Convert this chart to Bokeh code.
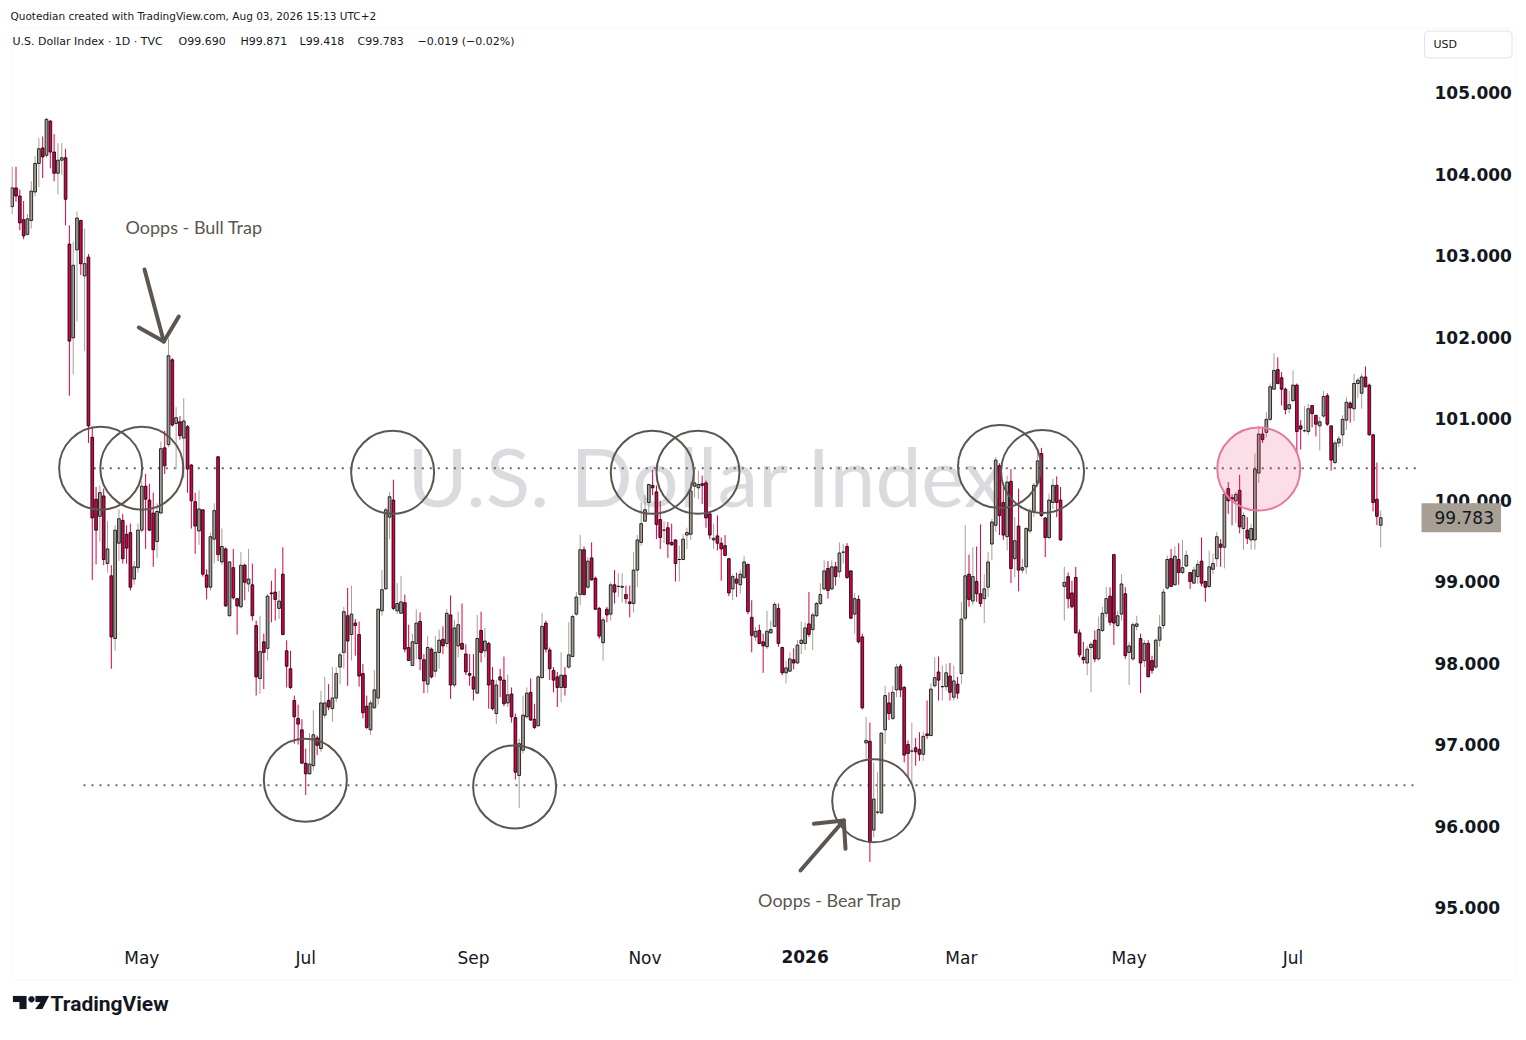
import math
import pandas as pd
from bokeh.plotting import figure
from bokeh.models import Label, FixedTicker, PrintfTickFormatter, Range1d, ColumnDataSource, PolyAnnotation
from bokeh.embed import file_html
from bokeh.resources import INLINE

# ---------------- data (U.S. Dollar Index, daily) ----------------
opens = [
    103.60, 103.83, 103.73, 103.44, 103.26, 103.43, 103.78, 104.13, 104.32, 104.23,
    104.65, 104.27, 104.01, 104.17, 104.20, 103.14, 101.99, 103.07, 103.43, 102.75,
    102.98, 100.77, 100.01, 99.80, 100.05, 99.22, 99.07, 98.30, 99.47, 99.75,
    99.58, 99.60, 99.03, 99.17, 99.63, 100.17, 100.00, 99.84, 99.49, 99.84,
    100.64, 100.68, 101.72, 100.94, 100.96, 100.76, 100.90, 100.43, 99.98, 99.62,
    99.88, 99.08, 98.93, 99.52, 100.53, 99.24, 99.40, 98.58, 99.17, 98.79,
    98.69, 99.20, 98.97, 98.96, 98.46, 97.81, 98.26, 98.18, 98.86, 98.87,
    98.67, 99.09, 98.15, 97.93, 97.54, 97.32, 97.18, 96.77, 96.64, 96.74,
    97.08, 96.95, 97.36, 97.54, 97.44, 97.57, 97.95, 98.13, 98.58, 98.35,
    98.49, 98.35, 97.87, 97.47, 97.18, 97.45, 97.57, 98.64, 98.91, 99.79,
    100.00, 98.64, 98.61, 98.74, 98.19, 97.97, 98.24, 98.51, 98.04, 97.74,
    98.17, 97.90, 98.13, 98.29, 98.24, 98.59, 97.73, 98.21, 98.24, 98.11,
    97.87, 97.83, 97.63, 98.40, 98.15, 98.24, 97.79, 97.38, 97.83, 97.79,
    97.51, 97.62, 97.33, 96.62, 96.93, 97.34, 97.64, 97.31, 97.23, 97.82,
    98.49, 98.16, 97.91, 97.83, 97.70, 97.85, 97.95, 98.08, 98.60, 98.84,
    99.39, 98.93, 99.29, 99.04, 98.67, 98.25, 98.66, 98.60, 98.96, 98.94,
    98.93, 98.84, 98.75, 98.73, 99.14, 99.48, 99.74, 99.97, 100.18, 100.10,
    99.76, 99.63, 99.66, 99.48, 99.51, 99.27, 99.27, 99.57, 99.58, 100.17,
    100.15, 100.20, 100.21, 99.83, 99.51, 99.56, 99.47, 99.44, 99.28, 98.91,
    99.03, 98.96, 99.05, 99.21, 98.56, 98.32, 98.40, 98.26, 98.20, 98.37,
    98.45, 98.67, 98.19, 97.88, 97.90, 98.04, 98.00, 98.24, 98.24, 98.48,
    98.41, 98.58, 98.73, 98.91, 99.16, 98.91, 99.18, 99.12, 99.36, 99.43,
    99.13, 98.60, 98.78, 98.32, 97.02, 97.04, 95.95, 96.17, 96.16, 97.18,
    97.51, 97.32, 97.67, 97.96, 97.70, 97.00, 96.92, 96.96, 96.94, 96.88,
    97.13, 97.11, 97.72, 97.89, 97.71, 97.71, 97.84, 97.58, 97.74, 97.87,
    98.55, 99.09, 98.76, 99.00, 98.85, 98.79, 98.93, 99.46, 99.69, 100.42,
    99.97, 99.55, 100.23, 99.28, 99.68, 99.14, 99.18, 99.62, 99.86, 100.21,
    100.57, 99.78, 99.54, 99.97, 100.18, 100.00, 98.94, 99.06, 98.86, 99.05,
    98.37, 98.07, 98.00, 98.19, 98.28, 98.05, 98.40, 98.61, 98.82, 99.33,
    98.46, 98.60, 98.85, 98.13, 98.05, 98.45, 98.30, 98.03, 98.24, 98.03,
    97.95, 98.28, 98.46, 98.92, 99.28, 98.96, 99.27, 99.11, 99.19, 99.11,
    98.98, 99.06, 99.25, 99.00, 98.94, 99.15, 99.28, 99.46, 99.42, 100.14,
    100.03, 99.99, 100.12, 99.65, 99.63, 99.51, 99.51, 100.33, 100.81, 100.83,
    100.99, 101.36, 101.60, 101.50, 101.36, 101.12, 101.22, 101.41, 100.91, 100.85,
    100.84, 101.16, 101.04, 100.91, 101.03, 101.28, 100.91, 100.46, 100.70, 100.80,
    100.98, 101.19, 101.12, 101.43, 101.31, 101.51, 101.41, 100.80, 100.01, 99.690,
]
highs = [
    104.09, 104.09, 103.81, 103.67, 103.51, 103.91, 104.22, 104.44, 104.46, 104.69,
    104.66, 104.49, 104.38, 104.38, 104.31, 103.37, 103.17, 103.54, 103.44, 103.33,
    103.02, 100.90, 100.16, 100.18, 100.14, 99.74, 99.20, 99.69, 99.89, 99.83,
    99.69, 99.71, 99.25, 99.71, 100.23, 100.32, 100.20, 100.09, 99.96, 100.72,
    100.85, 101.98, 101.74, 101.14, 101.03, 101.25, 100.92, 100.44, 100.09, 100.12,
    99.88, 99.15, 99.60, 99.96, 100.54, 99.65, 99.42, 99.25, 99.40, 98.80,
    99.36, 99.22, 99.40, 99.22, 98.52, 98.58, 98.36, 98.85, 99.01, 99.16,
    98.89, 99.42, 98.28, 98.15, 97.60, 97.49, 97.31, 96.95, 97.14, 97.42,
    97.11, 97.66, 97.83, 97.74, 97.95, 97.95, 98.13, 98.69, 98.92, 98.95,
    98.54, 98.51, 97.99, 97.60, 97.54, 97.91, 98.67, 99.14, 99.91, 100.10,
    100.25, 98.98, 99.07, 98.84, 98.47, 98.36, 98.66, 98.62, 98.11, 98.33,
    98.19, 98.33, 98.41, 98.45, 98.66, 98.83, 98.53, 98.63, 98.73, 98.23,
    98.11, 98.11, 98.59, 98.63, 98.43, 98.26, 97.95, 97.79, 97.93, 98.08,
    97.86, 97.70, 97.38, 97.07, 97.60, 97.70, 97.81, 97.50, 97.85, 98.61,
    98.52, 98.19, 97.95, 97.89, 98.13, 97.95, 98.50, 98.60, 98.87, 99.57,
    99.43, 99.30, 99.48, 99.06, 98.69, 98.56, 98.69, 98.99, 99.14, 99.10,
    99.10, 98.95, 98.95, 99.36, 99.57, 99.97, 100.06, 100.20, 100.37, 100.18,
    99.99, 99.74, 99.73, 99.71, 99.52, 99.44, 99.58, 99.66, 100.22, 100.40,
    100.36, 100.30, 100.24, 99.84, 99.71, 99.81, 99.54, 99.57, 99.29, 99.09,
    99.11, 99.14, 99.31, 99.22, 98.77, 98.44, 98.47, 98.36, 98.64, 98.52,
    98.75, 98.73, 98.20, 98.03, 98.13, 98.18, 98.28, 98.51, 98.50, 98.87,
    98.62, 98.75, 98.98, 99.26, 99.25, 99.26, 99.24, 99.48, 99.46, 99.47,
    99.14, 98.86, 98.83, 98.36, 97.34, 97.27, 96.78, 96.66, 97.15, 97.72,
    97.64, 97.72, 97.99, 97.99, 97.72, 97.05, 97.27, 97.08, 97.15, 97.15,
    97.54, 97.75, 98.07, 98.08, 97.97, 97.99, 98.00, 97.97, 97.83, 98.75,
    99.69, 99.33, 99.42, 99.43, 99.70, 99.09, 99.36, 99.77, 100.53, 100.45,
    100.16, 100.30, 100.38, 99.79, 100.14, 99.28, 99.67, 99.90, 100.21, 100.61,
    100.64, 99.79, 100.08, 100.26, 100.29, 100.16, 99.18, 99.11, 99.01, 99.18,
    98.41, 98.26, 98.21, 98.26, 98.40, 98.57, 98.69, 98.93, 98.93, 99.34,
    98.64, 99.09, 98.93, 98.26, 98.50, 98.58, 98.36, 98.28, 98.28, 98.09,
    98.30, 98.59, 98.91, 99.32, 99.40, 99.43, 99.47, 99.51, 99.38, 99.11,
    99.18, 99.26, 99.54, 99.01, 99.38, 99.34, 99.61, 99.52, 100.07, 100.22,
    100.07, 100.10, 100.31, 99.85, 99.79, 99.71, 100.57, 100.91, 100.90, 101.08,
    101.43, 101.80, 101.75, 101.57, 101.38, 101.34, 101.59, 101.43, 100.98, 101.15,
    101.18, 101.16, 101.04, 101.02, 101.34, 101.31, 100.91, 100.73, 100.79, 101.04,
    101.26, 101.21, 101.55, 101.50, 101.55, 101.64, 101.43, 100.81, 100.46, 99.871,
]
lows = [
    103.51, 103.66, 103.31, 103.20, 103.24, 103.33, 103.73, 103.84, 103.95, 104.20,
    104.07, 103.91, 103.75, 103.99, 103.37, 101.28, 101.54, 102.19, 102.76, 101.83,
    100.70, 99.02, 99.21, 99.49, 99.20, 99.11, 97.93, 98.15, 99.25, 99.22,
    99.22, 98.89, 98.96, 99.11, 99.60, 99.40, 99.62, 99.18, 99.29, 99.83,
    100.32, 100.65, 100.90, 100.38, 100.74, 100.27, 100.09, 99.65, 99.34, 99.45,
    99.06, 98.78, 98.89, 99.22, 99.25, 99.20, 98.69, 98.57, 98.78, 98.35,
    98.67, 98.77, 98.87, 98.52, 97.60, 97.62, 97.68, 98.03, 98.50, 98.52,
    98.54, 98.34, 97.70, 97.68, 97.01, 97.00, 96.77, 96.38, 96.63, 96.68,
    96.87, 96.91, 97.32, 97.42, 97.28, 97.52, 97.74, 97.93, 97.72, 98.03,
    98.09, 97.71, 97.32, 97.19, 97.12, 97.44, 97.49, 98.58, 98.90, 99.52,
    98.65, 98.60, 98.61, 98.13, 98.03, 97.97, 98.05, 97.91, 97.63, 97.63,
    97.81, 97.83, 97.93, 98.11, 98.19, 97.56, 97.70, 98.07, 98.16, 97.85,
    97.72, 97.54, 97.63, 98.01, 98.07, 97.44, 97.42, 97.25, 97.58, 97.47,
    97.46, 97.27, 96.57, 96.22, 96.89, 97.32, 97.29, 97.19, 97.22, 97.81,
    98.13, 97.79, 97.64, 97.46, 97.52, 97.60, 97.93, 98.07, 98.58, 98.71,
    98.83, 98.91, 99.01, 98.65, 98.30, 98.03, 98.50, 98.52, 98.73, 98.81,
    98.74, 98.73, 98.56, 98.62, 98.93, 99.44, 99.73, 99.85, 100.06, 99.52,
    99.40, 99.47, 99.29, 99.44, 99.00, 99.00, 99.26, 99.40, 99.51, 100.03,
    100.01, 99.95, 99.66, 99.52, 99.40, 99.38, 99.01, 99.31, 98.82, 98.77,
    98.81, 98.85, 99.03, 98.60, 98.13, 98.27, 98.23, 97.88, 98.17, 98.36,
    98.44, 98.20, 97.85, 97.75, 97.89, 97.92, 97.99, 98.11, 98.16, 98.32,
    98.16, 98.56, 98.71, 98.89, 98.79, 98.89, 98.95, 99.05, 99.22, 99.03,
    98.54, 98.36, 98.24, 97.43, 96.83, 95.56, 95.86, 96.14, 96.15, 97.01,
    97.30, 97.30, 97.58, 97.58, 96.78, 96.60, 96.52, 96.74, 96.80, 96.80,
    97.07, 97.10, 97.70, 97.54, 97.54, 97.66, 97.54, 97.54, 97.56, 97.74,
    98.52, 98.69, 98.71, 98.75, 98.69, 98.49, 98.81, 99.26, 99.61, 99.57,
    99.51, 99.38, 98.98, 99.05, 98.88, 99.10, 99.09, 99.59, 99.79, 100.16,
    99.79, 99.30, 99.52, 99.89, 99.79, 99.50, 98.52, 98.67, 98.67, 98.36,
    98.07, 97.99, 97.85, 97.64, 98.01, 98.03, 98.38, 98.56, 98.46, 98.22,
    98.44, 98.52, 98.05, 97.73, 98.03, 98.40, 97.63, 97.95, 97.83, 97.87,
    97.93, 98.20, 98.42, 98.90, 98.94, 98.95, 98.96, 99.09, 99.18, 98.91,
    98.97, 98.97, 98.94, 98.75, 98.92, 99.09, 99.18, 99.18, 99.16, 99.83,
    99.69, 99.72, 99.59, 99.39, 99.46, 99.39, 99.39, 100.21, 100.70, 100.77,
    100.97, 101.35, 101.42, 101.16, 101.05, 101.06, 101.20, 100.57, 100.62, 100.83,
    100.80, 100.89, 100.78, 100.61, 101.01, 100.91, 100.36, 100.44, 100.65, 100.66,
    100.86, 100.95, 100.97, 101.25, 101.12, 101.38, 100.79, 99.86, 99.69, 99.418,
]
closes = [
    103.83, 103.73, 103.40, 103.24, 103.45, 103.79, 104.13, 104.31, 104.21, 104.67,
    104.27, 104.01, 104.17, 104.20, 103.69, 101.95, 102.88, 103.46, 102.90, 102.90,
    100.91, 99.78, 99.63, 100.09, 99.27, 99.40, 98.32, 99.63, 99.77, 99.28,
    99.41, 98.93, 99.18, 99.63, 100.17, 100.01, 99.63, 99.39, 99.86, 100.63,
    100.42, 101.77, 100.92, 101.01, 100.79, 100.97, 100.38, 99.99, 99.68, 99.89,
    99.09, 98.93, 99.55, 99.87, 99.33, 99.43, 98.70, 99.24, 98.80, 98.70,
    99.20, 98.99, 99.03, 98.58, 97.83, 98.14, 98.13, 98.82, 98.85, 98.78,
    98.76, 98.35, 97.96, 97.70, 97.34, 97.25, 96.77, 96.64, 96.76, 97.12,
    96.99, 97.51, 97.51, 97.46, 97.57, 97.87, 98.10, 98.63, 98.27, 98.60,
    98.46, 97.84, 97.39, 97.21, 97.51, 97.67, 98.66, 98.90, 99.88, 100.04,
    98.67, 98.73, 98.75, 98.17, 98.03, 98.26, 98.49, 98.05, 97.78, 98.19,
    97.83, 98.13, 98.28, 98.21, 98.61, 97.73, 98.43, 98.47, 98.17, 97.89,
    97.85, 97.68, 98.30, 98.13, 98.27, 97.73, 97.44, 97.73, 97.79, 97.50,
    97.61, 97.34, 96.66, 97.01, 97.36, 97.63, 97.30, 97.21, 97.83, 98.45,
    98.17, 97.93, 97.79, 97.70, 97.85, 97.70, 98.10, 98.57, 98.81, 99.39,
    98.84, 99.25, 99.02, 98.66, 98.33, 98.53, 98.59, 98.96, 98.87, 98.94,
    98.94, 98.79, 98.73, 99.14, 99.51, 99.71, 99.88, 100.19, 100.15, 99.70,
    99.54, 99.63, 99.46, 99.45, 99.22, 99.27, 99.52, 99.60, 100.11, 100.21,
    100.19, 100.18, 99.78, 99.57, 99.53, 99.47, 99.40, 99.32, 98.86, 99.06,
    98.98, 99.09, 99.24, 98.63, 98.34, 98.39, 98.24, 98.21, 98.39, 98.41,
    98.72, 98.24, 97.88, 97.94, 98.05, 98.00, 98.22, 98.28, 98.43, 98.35,
    98.59, 98.73, 98.84, 99.13, 98.89, 99.18, 99.06, 99.35, 99.36, 99.05,
    98.55, 98.79, 98.26, 97.45, 97.05, 95.80, 96.33, 96.17, 97.14, 97.60,
    97.38, 97.64, 97.95, 97.67, 96.87, 96.89, 96.92, 96.91, 96.88, 97.10,
    97.11, 97.68, 97.82, 97.79, 97.71, 97.88, 97.64, 97.78, 97.63, 98.54,
    99.07, 98.78, 99.06, 98.85, 98.73, 98.91, 99.24, 99.73, 100.49, 99.81,
    99.57, 100.22, 99.16, 99.50, 99.14, 99.17, 99.65, 99.86, 100.18, 100.48,
    99.81, 99.54, 100.00, 100.18, 99.97, 99.51, 98.99, 98.79, 98.69, 98.37,
    98.10, 98.04, 98.17, 98.23, 98.05, 98.41, 98.61, 98.79, 98.50, 98.49,
    98.58, 98.97, 98.09, 98.21, 98.47, 98.48, 98.00, 98.24, 97.83, 97.91,
    98.28, 98.44, 98.87, 99.27, 98.94, 99.31, 99.11, 99.17, 99.32, 99.00,
    99.14, 99.21, 98.98, 98.93, 99.18, 99.22, 99.55, 99.42, 100.07, 99.99,
    100.01, 100.07, 99.67, 99.81, 99.53, 99.65, 100.38, 100.81, 100.74, 100.99,
    101.39, 101.59, 101.43, 101.36, 101.11, 101.17, 101.41, 100.84, 100.87, 100.85,
    101.12, 101.06, 100.93, 100.96, 101.27, 100.93, 100.49, 100.70, 100.75, 100.99,
    101.20, 101.13, 101.43, 101.47, 101.51, 101.39, 100.80, 99.97, 99.80, 99.783,
]

holidays = ["2025-12-25", "2026-01-01"]
price_ticks = [95, 96, 97, 98, 99, 100, 101, 102, 103, 104, 105]
tick_labels = ["May", "Jul", "Sep", "Nov", "2026", "Mar", "May", "Jul"]

# annotation anchors (bar index, price)
resistance_level = 100.39
support_level = 96.50
resistance_start = 21.4
support_start = 18.7
level_end = 368.9
ring_x = [23.2, 34.0, 99.8, 76.9, 131.8, 167.9, 179.9, 226.0, 259.0, 270.3]
ring_y = [100.39, 100.39, 100.34, 96.56, 96.48, 100.34, 100.34, 96.31, 100.41, 100.35]
pink_x = [327.0]
pink_y = [100.38]
arrow_x0 = [34.71, 33.21, 43.70, 206.79, 210.28, 218.60]
arrow_y0 = [102.828, 102.117, 102.252, 95.454, 96.027, 95.720]
arrow_x1 = [39.77, 39.77, 39.77, 218.15, 218.15, 218.15]
arrow_y1 = [101.945, 101.945, 101.945, 96.067, 96.067, 96.067]

# ---------------- derived ----------------
dates = pd.bdate_range("2025-03-14", "2026-08-03")
dates = dates[~dates.isin(pd.to_datetime(holidays))]
n = len(closes)
idx = list(range(n))

UP_FILL, DOWN_FILL = "#a79e94", "#d6004b"
up = [c >= o for o, c in zip(opens, closes)]
src = ColumnDataSource(dict(
    x=idx,
    top=[max(o, c) for o, c in zip(opens, closes)],
    bottom=[min(o, c) for o, c in zip(opens, closes)],
    high=highs, low=lows,
    fill=[UP_FILL if u else DOWN_FILL for u in up],
))

month_starts = [i for i in range(1, min(n, len(dates))) if dates[i].month != dates[i - 1].month]
tick_idx = [i for i in month_starts if dates[i].month % 2 == 1][:len(tick_labels)]

# frame covers the chart box and the footer; scales drawn inside it
X0, X1 = -0.446, 394.62
Y0, Y1 = 93.368, 105.798
PX_PER_BAR, X_ORIGIN = 3.812, 11.7
PX_PER_UNIT, Y_REF_PX = 81.5, 92.0


def px2d(xp, yp):
    return (xp - X_ORIGIN) / PX_PER_BAR, 105 - (yp - Y_REF_PX) / PX_PER_UNIT


p = figure(width=1526, height=1040, x_range=Range1d(X0, X1), y_range=Range1d(Y0, Y1),
           y_axis_location="right", toolbar_location=None, tools="", output_backend="svg",
           min_border_left=10, min_border_right=10, min_border_top=27, min_border_bottom=0)
p.grid.visible = False
p.outline_line_color = None
p.background_fill_color = "white"
p.border_fill_color = "white"

# header line (title)
p.title.text = "Quotedian created with TradingView.com, Aug 03, 2026 15:13 UTC+2"
p.title.align = "left"
p.title.offset = 0
p.title.text_font = "DejaVu Sans"
p.title.text_font_size = "10.5px"
p.title.text_font_style = "normal"
p.title.text_color = "#131722"
p.title.standoff = 12

# chart box border
bx, by = zip(*[px2d(10.5, 27.5), px2d(1515.5, 27.5), px2d(1515.5, 979.5), px2d(10.5, 979.5)])
p.add_layout(PolyAnnotation(xs=list(bx), ys=list(by), fill_color=None, fill_alpha=0,
                            line_color="#e0e3eb", line_width=1))

# watermark
p.add_layout(Label(x=182.3, y=100.313, text="U.S. Dollar Index", text_align="center",
                   text_baseline="alphabetic", text_font="Lato", text_font_size="82px",
                   text_color="#dadbde", level="underlay"))

# dotted levels
p.segment(x0=[resistance_start, support_start], y0=[resistance_level, support_level],
          x1=[level_end, level_end], y1=[resistance_level, support_level],
          line_color="#6f675f", line_width=2, line_dash="2 6")

# candles
p.segment(x0="x", y0="low", x1="x", y1="high", line_color="fill", line_width=1, source=src)
p.vbar(x="x", width=0.72, top="top", bottom="bottom", fill_color="fill",
       line_color="#000000", line_width=0.8, source=src)

# rings
p.scatter(ring_x, ring_y, marker="circle", size=83, fill_color=None,
          line_color="#5d5650", line_width=2)
p.scatter(pink_x, pink_y, marker="circle", size=83, fill_color="#e8336a", fill_alpha=0.16,
          line_color="#e57a9b", line_width=2)

# arrows
p.segment(x0=arrow_x0, y0=arrow_y0, x1=arrow_x1, y1=arrow_y1, line_color="#5d5650",
          line_width=4, line_cap="round")

p.add_layout(Label(x=47.7, y=103.344, text="Oopps - Bull Trap", text_align="center",
                   text_baseline="middle", text_font="Lato", text_font_size="18px",
                   text_color="#5d5650"))
p.add_layout(Label(x=214.5, y=95.086, text="Oopps - Bear Trap", text_align="center",
                   text_baseline="middle", text_font="Lato", text_font_size="18px",
                   text_color="#5d5650"))

# price scale (labels drawn inside the chart box)
ya = p.yaxis[0]
ya.ticker = FixedTicker(ticks=price_ticks, minor_ticks=[])
ya.formatter = PrintfTickFormatter(format="%.3f")
ya.major_label_text_font = "DejaVu Sans"
ya.major_label_text_font_size = "17px"
ya.major_label_text_font_style = "bold"
ya.major_label_text_color = "#131722"
ya.axis_line_color = None
ya.major_tick_line_color = None
ya.minor_tick_line_color = None
ya.major_tick_out = 0
ya.major_tick_in = 0
ya.major_label_standoff = -82

# time scale
xa = p.xaxis[0]
xa.ticker = FixedTicker(ticks=tick_idx, minor_ticks=[])
xa.major_label_overrides = {t: ("" if lab == "2026" else lab) for t, lab in zip(tick_idx, tick_labels)}
xa.major_label_text_font = "DejaVu Sans"
xa.major_label_text_font_size = "17px"
xa.major_label_text_color = "#131722"
xa.axis_line_color = None
xa.major_tick_line_color = None
xa.minor_tick_line_color = None
xa.major_tick_out = 0
xa.major_tick_in = 0
xa.major_label_standoff = -93

for t, lab in zip(tick_idx, tick_labels):
    if lab == "2026":
        p.add_layout(Label(x=t, y=94.393, text=lab, text_align="center", text_baseline="middle",
                           text_font="DejaVu Sans", text_font_size="17px", text_font_style="bold",
                           text_color="#131722"))

# legend line
legend_parts = ["U.S. Dollar Index \u00b7 1D \u00b7 TVC", "O99.690", "H99.871", "L99.418", "C99.783",
                "\u22120.019 (\u22120.02%)"]
legend_x = [0.08, 43.63, 59.89, 75.37, 90.58, 106.32]
for t, xx in zip(legend_parts, legend_x):
    p.add_layout(Label(x=xx, y=105.626, text=t, text_baseline="middle", text_font="DejaVu Sans",
                       text_font_size="11px", text_color="#131722"))

p.add_layout(Label(x=370.49, y=105.589, text="USD", text_baseline="middle", text_font="DejaVu Sans",
                   text_font_size="11px", text_color="#131722", background_fill_color="white",
                   border_line_color="#e0e3eb", border_radius=4,
                   padding=dict(left=9, right=55, top=7, bottom=7)))

p.add_layout(Label(x=369.70, y=closes[-1], text=f"{closes[-1]:.3f}", text_baseline="middle",
                   text_font="DejaVu Sans", text_font_size="17px", text_color="#131722",
                   background_fill_color="#a79e94",
                   padding=dict(left=13, right=7, top=8, bottom=8)))

# footer brand: logo marks + name
logo_shapes = [
    [(12.5, 995.5), (26.0, 995.5), (26.0, 1008.5), (19.0, 1008.5), (19.0, 1001.5), (12.5, 1001.5)],
    [(31 + 3.1 * math.cos(a * math.pi / 6), 998.8 + 3.1 * math.sin(a * math.pi / 6)) for a in range(12)],
    [(35.0, 995.5), (48.5, 995.5), (41.8, 1008.5), (34.8, 1008.5), (40.0, 1001.5), (35.0, 1001.5)],
]
for shp in logo_shapes:
    sx, sy = zip(*[px2d(a, b) for a, b in shp])
    p.add_layout(PolyAnnotation(xs=list(sx), ys=list(sy), fill_color="#131722", fill_alpha=1,
                                line_color="#131722", line_width=0.5))
bxp, byp = px2d(50, 1003.5)
p.add_layout(Label(x=bxp, y=byp, text="TradingView", text_baseline="middle", text_font="Roboto",
                   text_font_size="21px", text_font_style="bold", text_color="#131722"))

open("out.html", "w").write(file_html(p, INLINE))
